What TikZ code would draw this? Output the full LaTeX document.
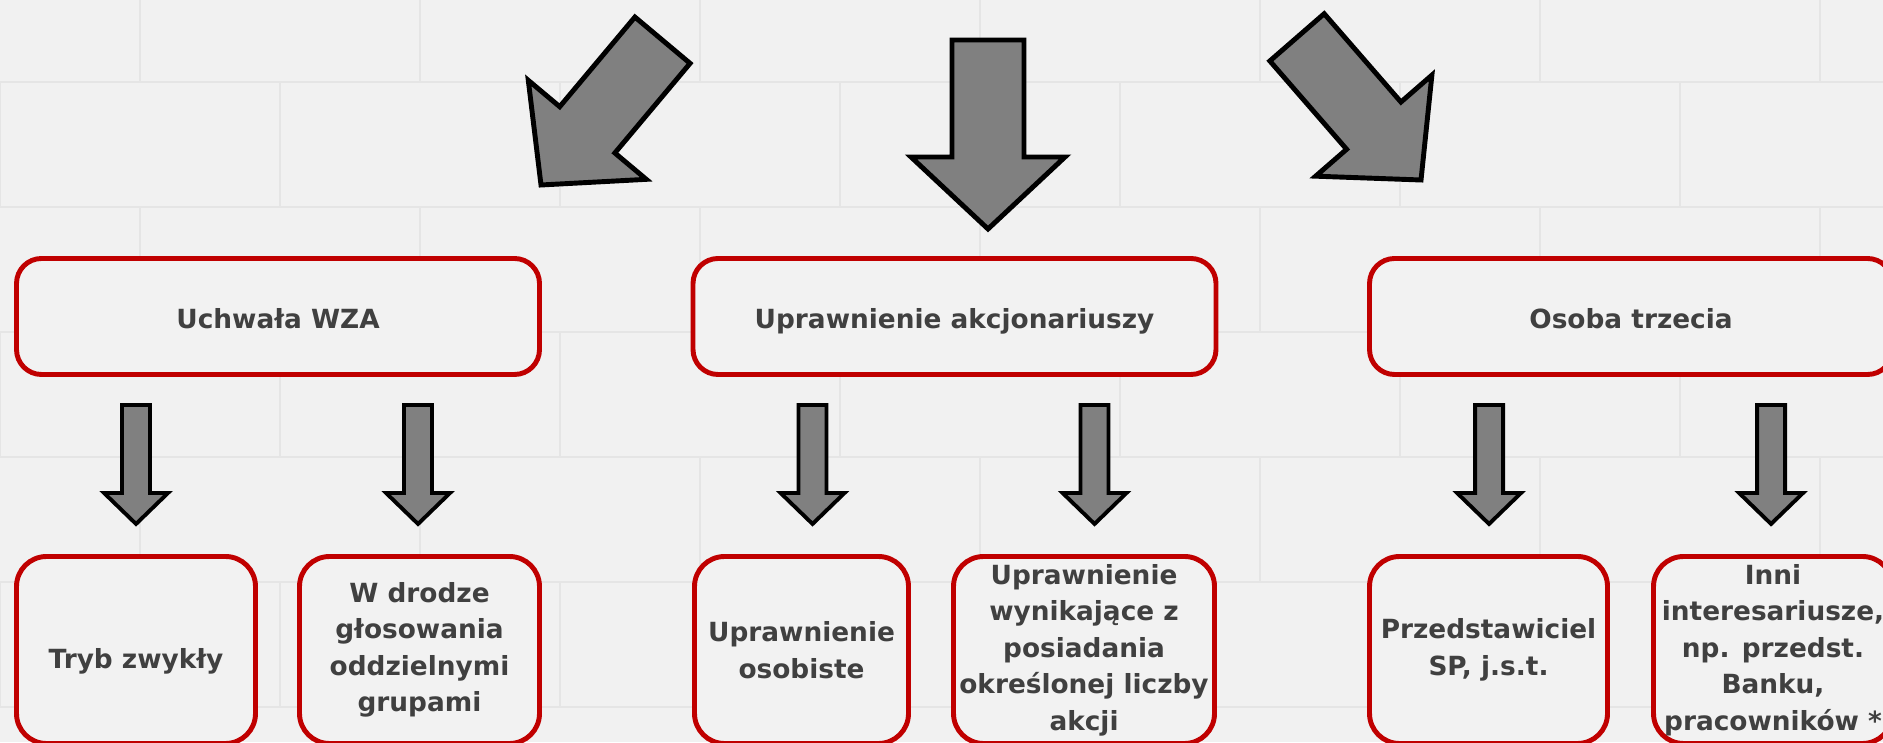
\documentclass[tikz,border=0pt]{standalone}
\usepackage{fontspec}
\setmainfont{DejaVu Sans}
\usetikzlibrary{calc}
\definecolor{boxred}{HTML}{C00000}
\definecolor{boxfill}{HTML}{F2F2F2}
\definecolor{txt}{HTML}{404040}
\definecolor{arrowgray}{HTML}{808080}
\definecolor{wall}{HTML}{F1F1F1}
\definecolor{mortar}{HTML}{E5E5E5}
\tikzset{
  basebox/.style={rectangle,draw=boxred,fill=boxfill,line width=1.4pt,
    text=txt,align=center,inner sep=1pt,font=\bfseries\fontsize{7.5}{10.4}\selectfont},
  topbox/.style={basebox,rounded corners=0.25cm,minimum width=5.23cm,minimum height=1.16cm,
    text height=1.6ex,text depth=0.4ex},
  subbox/.style={basebox,rounded corners=0.3cm,minimum height=1.87cm},
  pics/bigarrow/.style={code={
    \draw[line width=1.4pt,fill=arrowgray] (0,0) -- (0.77,0.72) -- (0.36,0.72) -- (0.36,1.89)
      -- (-0.36,1.89) -- (-0.36,0.72) -- (-0.77,0.72) -- cycle;}},
  pics/smallarrow/.style={code={
    \draw[line width=1.1pt,fill=arrowgray] (0,0) -- (0.32,0.31) -- (0.14,0.31) -- (0.14,1.19)
      -- (-0.14,1.19) -- (-0.14,0.31) -- (-0.32,0.31) -- cycle;}}
}
\begin{document}
\begin{tikzpicture}
      \useasboundingbox (0,0) rectangle (18.83,7.42);
      % wall in the background
      \fill[wall] (0,0) rectangle (18.83,7.42);
      \foreach \r in {0,...,5}{
        \draw[mortar,line width=0.8pt] (0,{0.35+1.25*\r}) -- (18.83,{0.35+1.25*\r});
        \pgfmathsetmacro{\off}{mod(\r,2)*1.4}
        \foreach \c in {0,...,7}
          \draw[mortar,line width=0.8pt] ({\off+2.8*\c},{0.35+1.25*\r}) -- ++(0,1.25);
      }
      % big arrows
      \pic[rotate=-40] at (5.41,5.57) {bigarrow};
      \pic at (9.88,5.13) {bigarrow};
      \pic[rotate=41] at (14.21,5.62) {bigarrow};
      % first level
      \node[topbox] (uchwala) at (2.78,4.255) {Uchwała WZA};
      \node[topbox] (uprawnienie) at (9.545,4.255) {Uprawnienie akcjonariuszy};
      \node[topbox] (osoba) at (16.31,4.255) {Osoba trzecia};
      % second level
      \node[subbox,minimum width=2.39cm] (tryb) at (1.36,0.92) {\raisebox{-0.19cm}[0pt][0pt]{Tryb zwykły}};
      \node[subbox,minimum width=2.40cm] (grupy) at (4.195,0.92) {W drodze\\głosowania\\oddzielnymi\\grupami};
      \node[subbox,minimum width=2.14cm] (osobiste) at (8.015,0.92) {Uprawnienie\\osobiste};
      \node[subbox,minimum width=2.61cm] (akcje) at (10.84,0.92) {Uprawnienie\\wynikające z\\posiadania\\określonej liczby\\akcji};
      \node[subbox,minimum width=2.38cm] (sp) at (14.885,0.92) {Przedstawiciel\\SP, j.s.t.};
      \node[subbox,minimum width=2.39cm] (inni) at (17.73,0.92) {Inni\\interesariusze,\\np. przedst.\\Banku,\\pracowników *};
      % small arrows under each box
      \foreach \b in {uchwala,uprawnienie,osoba}{
        \pic at ($(\b.south west)+(1.22,-1.47)$) {smallarrow};
        \pic at ($(\b.south west)+(4.04,-1.47)$) {smallarrow};
      }
    \end{tikzpicture}
\end{document}
